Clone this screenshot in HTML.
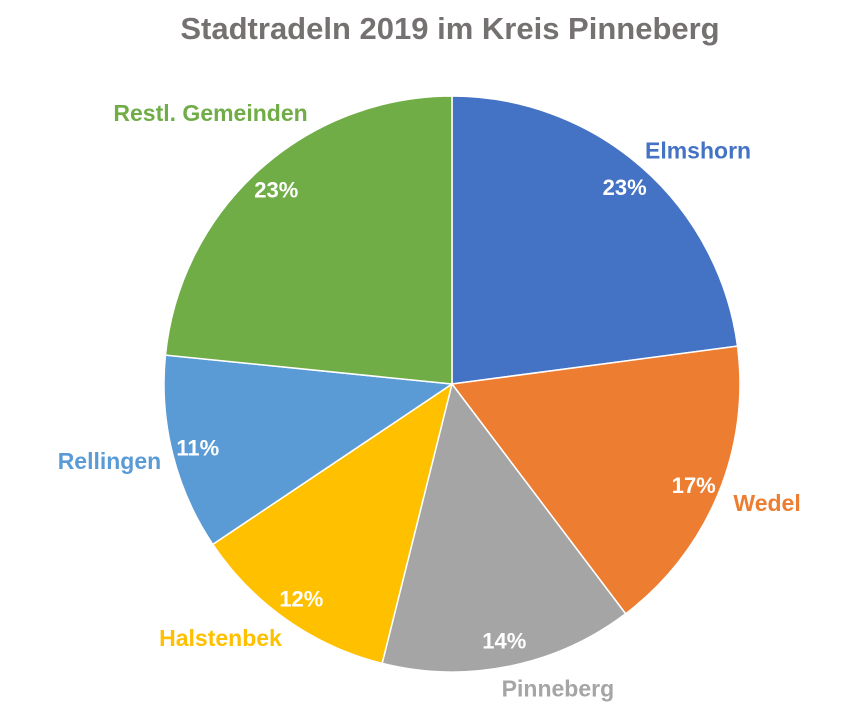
<!DOCTYPE html>
<html><head><meta charset="utf-8"><style>
html,body{margin:0;padding:0;background:#fff;}
svg{display:block;font-family:"Liberation Sans",sans-serif;font-weight:bold;}
</style></head><body>
<svg id="chart" width="841" height="709">
<text x="450" y="39" text-anchor="middle" font-size="31" fill="#767171">Stadtradeln 2019 im Kreis Pinneberg</text>
<g id="slices"></g><g id="labels"></g>
</svg>
<script>
const categories = ["Elmshorn","Wedel","Pinneberg","Halstenbek","Rellingen","Restl. Gemeinden"];
const values = [22.9,16.8,14.2,11.7,11.0,23.4];
const colors = ["#4472C4","#ED7D31","#A5A5A5","#FFC000","#5B9BD5","#70AD47"];
const cx=452, cy=384, R=288, rPct=262;
const catR=[340,335,320,340,350,360];
const catDx=[22,6,42,-36,-3,0];
const catDy=[22,-10,-9,-24,-8,-4];
const ns="http://www.w3.org/2000/svg";
const gS=document.getElementById('slices'), gL=document.getElementById('labels');
const total=values.reduce((a,b)=>a+b,0);
function pt(a,r){return [cx+r*Math.sin(a), cy-r*Math.cos(a)];}
let acc=0;
values.forEach((v,i)=>{
  const a0=acc/total*2*Math.PI; acc+=v; const a1=acc/total*2*Math.PI;
  const p0=pt(a0,R), p1=pt(a1,R);
  const path=document.createElementNS(ns,'path');
  path.setAttribute('d',`M${cx},${cy} L${p0[0]},${p0[1]} A${R},${R} 0 ${a1-a0>Math.PI?1:0} 1 ${p1[0]},${p1[1]} Z`);
  path.setAttribute('fill',colors[i]); path.setAttribute('stroke','#fff'); path.setAttribute('stroke-width','1.5');
  
  
  gS.appendChild(path);
  const m=(a0+a1)/2;
  const pp=pt(m,rPct);
  const t=document.createElementNS(ns,'text');
  t.setAttribute('x',pp[0]); t.setAttribute('y',pp[1]+8);
  t.setAttribute('text-anchor','middle'); t.setAttribute('font-size','22'); t.setAttribute('fill','#fff');
  t.textContent=Math.round(v)+'%';
  
  
  gL.appendChild(t);
  const cp=pt(m,catR[i]);
  const c=document.createElementNS(ns,'text');
  c.setAttribute('x',cp[0]+catDx[i]); c.setAttribute('y',cp[1]+8+catDy[i]);
  c.setAttribute('text-anchor','middle'); c.setAttribute('font-size','23'); c.setAttribute('fill',colors[i]);
  c.textContent=categories[i];
  
  
  gL.appendChild(c);
});
</script>
</body></html>
